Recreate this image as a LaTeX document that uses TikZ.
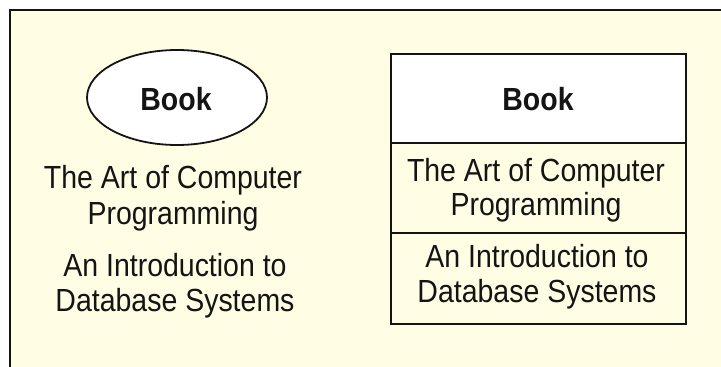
\documentclass[tikz,border=0pt]{standalone}
\usepackage{fontspec}
\setmainfont[FakeStretch=0.89]{Liberation Sans}
\usetikzlibrary{shapes.geometric}
\definecolor{cream}{RGB}{255,253,228}
\definecolor{ink}{RGB}{20,20,20}
\tikzset{
  txt/.style={font=\fontsize{32}{36}\selectfont, text=ink, anchor=base, inner sep=0pt},
  ttl/.style={font=\fontsize{32}{36}\selectfont\bfseries, text=ink, anchor=base, inner sep=0pt},
  ln/.style={line width=1.8pt, draw=ink},
}
\begin{document}
\begin{tikzpicture}[x=1pt,y=-1pt]
\useasboundingbox (0,0) rectangle (721,367);
\fill[white] (0,0) rectangle (721,367);
\fill[cream] (10,10) rectangle (721,367);
\draw[ln] (10,367) -- (10,10) -- (721,10);
% left: ellipse entity
\node[ellipse, ln, fill=white, minimum width=180pt, minimum height=95pt, inner sep=0pt] (ell) at (177,97.5) {};
\node[ttl] (book1) at (176,110.5) {Book};
\node[txt] (l1a) at (173,188.5) {The Art of Computer};
\node[txt] (l1b) at (173,224.5) {Programming};
\node[txt] (l2a) at (175,276.5) {An Introduction to};
\node[txt] (l2b) at (175,311.5) {Database Systems};
% right: table
\coordinate (tl) at (391,54);
\coordinate (br) at (686,324);
\fill[white] (391,54) rectangle (686,143);
\draw[ln] (tl) rectangle (br);
\coordinate (d1a) at (391,143); \coordinate (d1b) at (686,143);
\coordinate (d2a) at (391,233); \coordinate (d2b) at (686,233);
\draw[ln] (d1a) -- (d1b);
\draw[ln] (d2a) -- (d2b);
\node[ttl] (book2) at (538,110.5) {Book};
\node[txt] (r1a) at (536,181) {The Art of Computer};
\node[txt] (r1b) at (536,215.5) {Programming};
\node[txt] (r2a) at (537,267) {An Introduction to};
\node[txt] (r2b) at (537,302) {Database Systems};
\end{tikzpicture}
\end{document}
